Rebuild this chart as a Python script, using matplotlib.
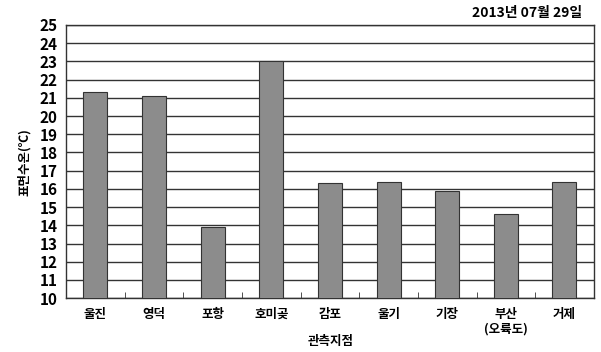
import matplotlib
matplotlib.use("Agg")
from matplotlib import pyplot as plt
import numpy as np

plt.rcParams['font.family'] = ['Noto Sans CJK KR', 'DejaVu Sans']

stations = ["울진", "영덕", "포항", "호미곶", "감포", "울기", "기장", "부산\n(오륙도)", "거제"]
temps = [21.3, 21.1, 13.9, 23.0, 16.3, 16.4, 15.9, 14.6, 16.4]
yticks = list(range(10, 26))

fig = plt.figure(figsize=(6.01, 3.52), dpi=100)
ax = fig.add_axes([0.110, 0.153, 0.878, 0.776])

x = np.arange(len(stations))
ax.bar(x, temps, width=0.41, color="#8c8c8c", edgecolor="#333333", linewidth=0.8, zorder=3)

ax.set_xlim(-0.5, len(stations) - 0.5)
ax.set_ylim(10, 25)
ax.set_yticks(yticks)
ax.set_yticklabels([str(t) for t in yticks], fontsize=11, fontweight="bold")
ax.yaxis.grid(True, color="#333333", linewidth=1.0, zorder=0)
ax.tick_params(axis="y", length=0, pad=6)

ax.set_xticks(x)
ax.set_xticklabels(stations, fontsize=9, fontweight="bold", va="top")
ax.tick_params(axis="x", which="major", length=0, pad=7)
ax.set_xticks(np.arange(0.5, len(stations) - 0.5, 1), minor=True)
ax.tick_params(axis="x", which="minor", direction="in", length=4, color="#333333")

for s in ax.spines.values():
    s.set_color("#333333")
    s.set_linewidth(1.0)

ax.set_ylabel("표면수온(℃)", fontsize=9, fontweight="bold", labelpad=6)
fig.text(0.55, 0.03, "관측지점", fontsize=9, fontweight="bold", ha="center", va="center")
fig.text(0.968, 0.963, "2013년 07월 29일", fontsize=10, fontweight="bold", ha="right", va="center")

plt.savefig("out.png", dpi=100)
